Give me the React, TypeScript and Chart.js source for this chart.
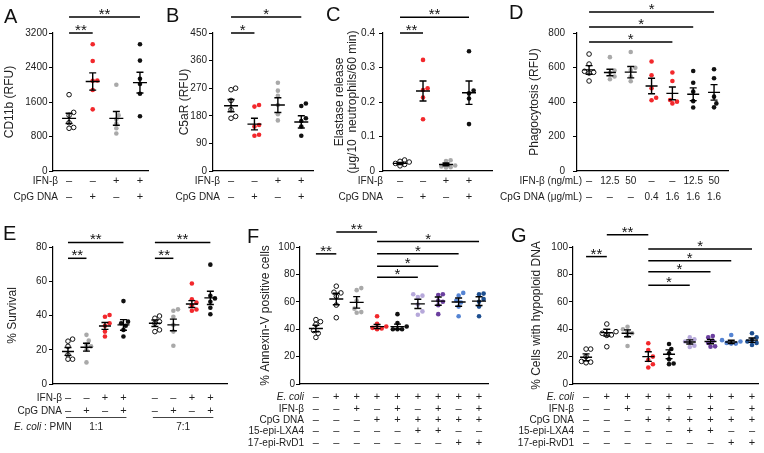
import React, { useEffect, useRef } from "react";
import { Chart, registerables } from "chart.js";

Chart.register(...registerables);

const FONT = "'Liberation Sans', Arial, Helvetica, sans-serif";
const PAGE_W = 764;
const PAGE_H = 453;

const OPEN = "open";
const GRAY = "#a9a9a9";
const RED = "#f2282c";
const BLACK = "#111111";
const LILAC = "#b6a8da";
const PURPLE = "#6b3f9f";
const BLUE = "#5584d3";
const NAVY = "#1d4e8f";

// ---------- A: CD11b ----------
const cd11bPoints = [
  [1770, 1360, 1290, 1120, 1010, 990],
  [2940, 2550, 2100, 2090, 1880, 1430],
  [2000, 1290, 1200, 1100, 990, 870],
  [2940, 2560, 2140, 2020, 1790, 1270],
];
const cd11bMean = [1220, 2075, 1220, 2050];
const cd11bSem = [120, 200, 160, 240];
const cd11bTicks = [0, 800, 1600, 2400, 3200];
const cd11bSig: [number, number, string, number][] = [
  [0, 3, "**", 3570],
  [0, 1, "**", 3200],
];

// ---------- B: C5aR ----------
const c5arPoints = [
  [270, 265, 230, 200, 178, 172],
  [215, 210, 150, 145, 118, 115],
  [288, 262, 245, 215, 185, 165],
  [220, 212, 172, 163, 145, 115],
];
const c5arMean = [213, 153, 215, 160];
const c5arSem = [20, 19, 24, 20];
const c5arTicks = [0, 90, 180, 270, 360, 450];
const c5arSig: [number, number, string, number][] = [
  [0, 3, "*", 502],
  [0, 1, "*", 450],
];

// ---------- C: Elastase ----------
const elastasePoints = [
  [0.032, 0.028, 0.026, 0.022, 0.019, 0.015],
  [0.322, 0.24, 0.235, 0.213, 0.15],
  [0.031, 0.029, 0.016, 0.013, 0.011, 0.01],
  [0.347, 0.233, 0.225, 0.21, 0.136],
];
const elastaseMean = [0.022, 0.232, 0.019, 0.227];
const elastaseSem = [0.003, 0.029, 0.004, 0.034];
const elastaseTicks = [0, 0.1, 0.2, 0.3, 0.4];
const elastaseSig: [number, number, string, number][] = [
  [0, 3, "**", 0.446],
  [0, 1, "**", 0.4],
];

const ifnCpgRows = ["IFN-β", "CpG DNA"];
const ifnCpgCells = [
  ["–", "–", "+", "+"],
  ["–", "+", "–", "+"],
];

// ---------- D: Phagocytosis ----------
const phagoPoints = [
  [678, 620, 578, 572, 568, 522],
  [660, 582, 570, 548, 532],
  [690, 598, 585, 548, 520],
  [635, 555, 480, 425, 410],
  [571, 522, 412, 402, 392],
  [580, 512, 460, 405, 368],
  [590, 538, 431, 392, 369],
];
const phagoMean = [586, 571, 573, 493, 450, 445, 456];
const phagoSem = [25, 19, 33, 45, 37, 37, 45];
const phagoTicks = [0, 200, 400, 600, 800];
const phagoSig: [number, number, string, number][] = [
  [0, 4, "*", 748],
  [0, 5, "*", 835],
  [0, 6, "*", 922],
];
const phagoRows = ["IFN-β (ng/mL)", "CpG DNA (μg/mL)"];
const phagoCells = [
  ["–", "12.5", "50", "–", "–", "12.5", "50"],
  ["–", "–", "–", "0.4", "1.6", "1.6", "1.6"],
];

// ---------- E: Survival ----------
const survivalPoints = [
  [26.2, 25, 22, 17, 14.5, 14.5],
  [28.7, 25.3, 23, 22, 20, 12.6],
  [40.3, 39.3, 35.5, 34, 30.6, 27.7],
  [48.4, 36.4, 35.5, 34, 31.6, 27.7],
  [39.7, 38.4, 36.4, 35.5, 31.6, 30.6],
  [43.6, 42.8, 39.3, 34.5, 30.6, 22.3],
  [58.7, 49.5, 47.5, 46, 43.5, 42.8],
  [69.7, 51.5, 50, 48, 44.5, 40.7],
];
const survivalMean = [19, 21.5, 33.9, 34.5, 35.5, 34.5, 46.7, 50.3];
const survivalSem = [2.3, 2.3, 2, 3.1, 1.9, 3.4, 2, 3.9];
const survivalTicks = [0, 20, 40, 60, 80];
const survivalSig: [number, number, string, number][] = [
  [0, 3, "**", 82.7],
  [4, 7, "**", 82.7],
  [0, 1, "**", 73.4],
  [4, 5, "**", 73.4],
];
const survivalCells = [
  ["–", "–", "+", "+", "–", "–", "+", "+"],
  ["–", "+", "–", "+", "–", "+", "–", "+"],
];
const survivalRatios = ["1:1", "7:1"];

// ---------- F: Annexin-V ----------
const annexinPoints = [
  [47, 45.5, 43.5, 39, 37, 34],
  [71.4, 67, 66.5, 64, 57.6, 48.4],
  [70, 68.5, 61, 55, 52.5, 52],
  [49.5, 44, 42, 41, 40.5, 40],
  [51, 44.5, 42, 40, 40, 40],
  [65.5, 64.5, 63.5, 58, 53, 50.5],
  [65.5, 65, 61, 60, 57.5, 51],
  [66.5, 64.5, 61, 59.5, 56.5, 49.5],
  [66, 65.5, 62, 60, 56.5, 49.5],
];
const annexinMean = [40.5, 62, 59.6, 41.9, 41.9, 58.5, 60.5, 59.8, 60.5];
const annexinSem = [2.4, 4.2, 4.2, 1.5, 1.8, 3.4, 3, 3, 3.2];
const percentTicks = [0, 20, 40, 60, 80, 100];
const annexinSig: [number, number, string, number][] = [
  [3, 5, "*", 78],
  [3, 6, "*", 86],
  [3, 7, "*", 95],
  [3, 8, "*", 104],
  [0, 1, "**", 95],
  [1, 3, "**", 111],
];

// ---------- G: Hypoploid DNA ----------
const hypoPoints = [
  [25.5, 25.5, 20, 16.5, 16, 15.5],
  [43.8, 38.2, 37, 35.8, 35.5, 27.2],
  [41.8, 40, 38.5, 37, 35, 27.7],
  [29.7, 24.8, 20, 17.5, 14.4, 12],
  [29.2, 25.5, 22.5, 18, 15, 14.5],
  [34, 32.6, 31, 30.5, 28, 27],
  [35, 34, 31.6, 30, 27.5, 27.2],
  [35.8, 32, 31, 30, 29.5, 29.5],
  [37, 34, 32, 31, 30, 28.5],
];
const hypoMean = [19.5, 37.5, 37, 20, 21.7, 30.7, 31, 30.7, 32];
const hypoSem = [2.5, 2.5, 2.5, 3.5, 3.2, 1.5, 1.6, 1.2, 1.6];
const hypoSig: [number, number, string, number][] = [
  [3, 5, "*", 72],
  [3, 6, "*", 82],
  [3, 7, "*", 90],
  [3, 8, "*", 98.5],
  [0, 1, "**", 93],
  [1, 3, "**", 109],
];

const treatRows = ["E. coli", "IFN-β", "CpG DNA", "15-epi-LXA4", "17-epi-RvD1"];
const treatCells = [
  ["–", "+", "+", "+", "+", "+", "+", "+", "+"],
  ["–", "–", "+", "–", "+", "–", "+", "–", "+"],
  ["–", "–", "–", "+", "+", "+", "+", "+", "+"],
  ["–", "–", "–", "–", "–", "+", "+", "–", "–"],
  ["–", "–", "–", "–", "–", "–", "–", "+", "+"],
];

// ---------- layout ----------
type Area = { l: number; t: number; r: number; b: number };
type Panel = {
  letter: string;
  letterPos: [number, number];
  area: Area;
  xRange: [number, number];
  positions: number[];
  points: number[][];
  colors: string[];
  means: number[];
  sems: number[];
  ticks: number[];
  tickPad: number;
  meanHalf: number;
  title: string[];
  titleX: number[];
  rows: string[];
  cells: string[][];
  rowY: number[];
  rowRight: number;
  sig: [number, number, string, number][];
  extra?: (ctx: CanvasRenderingContext2D, xs: any, p: Panel) => void;
};

const idx = (n: number) => Array.from({ length: n }, (_, i) => i);
const survivalPos = idx(8).map((i) => i + (i >= 4 ? 0.7 : 0));
const treatRowY = [397, 409, 420, 431, 443];

const panels: Panel[] = [
  {
    letter: "A", letterPos: [4, 23], area: { l: 53, t: 33, r: 148, b: 171 }, xRange: [-0.68, 3.34],
    positions: idx(4), points: cd11bPoints, colors: [OPEN, RED, GRAY, BLACK], means: cd11bMean, sems: cd11bSem,
    ticks: cd11bTicks, tickPad: 1.5, meanHalf: 7, title: ["CD11b (RFU)"], titleX: [10],
    rows: ifnCpgRows, cells: ifnCpgCells, rowY: [181, 197], rowRight: 58, sig: cd11bSig,
  },
  {
    letter: "B", letterPos: [166, 22], area: { l: 213, t: 33, r: 313, b: 171 }, xRange: [-0.77, 3.5],
    positions: idx(4), points: c5arPoints, colors: [OPEN, RED, GRAY, BLACK], means: c5arMean, sems: c5arSem,
    ticks: c5arTicks, tickPad: 2, meanHalf: 7, title: ["C5aR (RFU)"], titleX: [185],
    rows: ifnCpgRows, cells: ifnCpgCells, rowY: [181, 197], rowRight: 220, sig: c5arSig,
  },
  {
    letter: "C", letterPos: [326, 21], area: { l: 383, t: 33, r: 492, b: 171 }, xRange: [-0.74, 4.0],
    positions: idx(4), points: elastasePoints, colors: [OPEN, RED, GRAY, BLACK], means: elastaseMean, sems: elastaseSem,
    ticks: elastaseTicks, tickPad: 4, meanHalf: 7, title: ["Elastase release", "(μg/10  neutrophils/60 min)"], titleX: [340, 353],
    rows: ifnCpgRows, cells: ifnCpgCells, rowY: [181, 197], rowRight: 383, sig: elastaseSig,
  },
  {
    letter: "D", letterPos: [509, 19], area: { l: 577, t: 33, r: 728, b: 171 }, xRange: [-0.58, 6.67],
    positions: idx(7), points: phagoPoints, colors: [OPEN, GRAY, GRAY, RED, RED, BLACK, BLACK], means: phagoMean, sems: phagoSem,
    ticks: phagoTicks, tickPad: 8, meanHalf: 6, title: ["Phagocytosis (RFU)"], titleX: [535],
    rows: phagoRows, cells: phagoCells, rowY: [181, 197], rowRight: 582, sig: phagoSig,
  },
  {
    letter: "E", letterPos: [3, 240], area: { l: 53, t: 247, r: 227, b: 384 }, xRange: [-0.81, 8.6],
    positions: survivalPos, points: survivalPoints, colors: [OPEN, GRAY, RED, BLACK, OPEN, GRAY, RED, BLACK],
    means: survivalMean, sems: survivalSem, ticks: survivalTicks, tickPad: 2, meanHalf: 6,
    title: ["% Survival"], titleX: [13], rows: ifnCpgRows, cells: survivalCells, rowY: [398, 411], rowRight: 62,
    sig: survivalSig,
    extra: (ctx, xs, p) => {
      ctx.strokeStyle = "#444";
      ctx.lineWidth = 1;
      ctx.fillStyle = "#222";
      ctx.font = `10px ${FONT}`;
      ctx.textAlign = "center";
      ctx.textBaseline = "middle";
      survivalRatios.forEach((label, g) => {
        const x1 = xs.getPixelForValue(p.positions[g * 4]) - 2;
        const x2 = xs.getPixelForValue(p.positions[g * 4 + 3]) + 3;
        ctx.beginPath();
        ctx.moveTo(x1, 417.5);
        ctx.lineTo(x2, 417.5);
        ctx.stroke();
        ctx.fillText(label, (x1 + x2) / 2, 427);
      });
      ctx.textAlign = "left";
      ctx.font = `italic 10px ${FONT}`;
      ctx.fillText("E. coli", 14, 427);
      const w = ctx.measureText("E. coli").width;
      ctx.font = `10px ${FONT}`;
      ctx.fillText(" : PMN", 14 + w, 427);
    },
  },
  {
    letter: "F", letterPos: [247, 243], area: { l: 300, t: 247, r: 488, b: 384 }, xRange: [-0.78, 8.44],
    positions: idx(9), points: annexinPoints, colors: [OPEN, OPEN, GRAY, RED, BLACK, LILAC, PURPLE, BLUE, NAVY],
    means: annexinMean, sems: annexinSem, ticks: percentTicks, tickPad: 1, meanHalf: 7,
    title: ["% Annexin-V positive cells"], titleX: [266], rows: treatRows, cells: treatCells, rowY: treatRowY,
    rowRight: 304, sig: annexinSig,
  },
  {
    letter: "G", letterPos: [511, 242], area: { l: 573, t: 247, r: 758, b: 384 }, xRange: [-0.63, 8.29],
    positions: idx(9), points: hypoPoints, colors: [OPEN, OPEN, GRAY, RED, BLACK, LILAC, PURPLE, BLUE, NAVY],
    means: hypoMean, sems: hypoSem, ticks: percentTicks, tickPad: 1, meanHalf: 6,
    title: ["% Cells with hypoploid DNA"], titleX: [537], rows: treatRows, cells: treatCells, rowY: treatRowY,
    rowRight: 574, sig: hypoSig,
  },
];

const R = 2.3;

function swarmOffsets(vals: number[], pxY: number, pxX: number): number[] {
  const order = vals.map((_, i) => i).sort((a, b) => vals[a] - vals[b]);
  const placed: { x: number; y: number }[] = [];
  const out = new Array(vals.length).fill(0);
  const step = R * 1.0;
  for (const i of order) {
    const y = vals[i] * pxY;
    for (let k = 0; k < 30; k++) {
      const cand = k === 0 ? 0 : (k % 2 ? 1 : -1) * Math.ceil(k / 2) * step;
      if (placed.every((q) => Math.hypot(q.x - cand, q.y - y) >= 2 * R * 0.9)) {
        placed.push({ x: cand, y });
        out[i] = cand / pxX;
        break;
      }
    }
  }
  return out;
}

function makeDecor(p: Panel) {
  return {
    id: "decor" + p.letter,
    afterDatasetsDraw(chart: any) {
      const ctx: CanvasRenderingContext2D = chart.ctx;
      const xs = chart.scales.x;
      const ys = chart.scales.y;
      ctx.save();
      ctx.strokeStyle = "#000";
      ctx.lineWidth = 1.4;
      p.means.forEach((m, i) => {
        const x = xs.getPixelForValue(p.positions[i]);
        const ym = ys.getPixelForValue(m);
        const yt = ys.getPixelForValue(m + p.sems[i]);
        const yb = ys.getPixelForValue(m - p.sems[i]);
        ctx.beginPath();
        ctx.moveTo(x - p.meanHalf, ym);
        ctx.lineTo(x + p.meanHalf, ym);
        ctx.moveTo(x, yt);
        ctx.lineTo(x, yb);
        ctx.moveTo(x - 3.5, yt);
        ctx.lineTo(x + 3.5, yt);
        ctx.moveTo(x - 3.5, yb);
        ctx.lineTo(x + 3.5, yb);
        ctx.stroke();
      });
      ctx.restore();
    },
    afterDraw(chart: any) {
      const ctx: CanvasRenderingContext2D = chart.ctx;
      const xs = chart.scales.x;
      const ys = chart.scales.y;
      const area = chart.chartArea;
      ctx.save();
      ctx.strokeStyle = "#000";
      ctx.fillStyle = "#111";
      ctx.lineWidth = 1.5;
      p.sig.forEach(([a, b, label, v]) => {
        const x1 = xs.getPixelForValue(p.positions[a]);
        const x2 = xs.getPixelForValue(p.positions[b]);
        const y = ys.getPixelForValue(v);
        ctx.beginPath();
        ctx.moveTo(x1, y);
        ctx.lineTo(x2, y);
        ctx.stroke();
        ctx.font = `15px ${FONT}`;
        ctx.textAlign = "center";
        ctx.textBaseline = "alphabetic";
        ctx.fillText(label, (x1 + x2) / 2, y + 2);
      });
      ctx.fillStyle = "#222";
      ctx.font = `12px ${FONT}`;
      ctx.textAlign = "center";
      ctx.textBaseline = "middle";
      const yc = (area.top + area.bottom) / 2;
      p.title.forEach((line, i) => {
        ctx.save();
        ctx.translate(p.titleX[i], yc);
        ctx.rotate(-Math.PI / 2);
        ctx.fillText(line, 0, 0);
        ctx.restore();
      });
      ctx.font = `20px ${FONT}`;
      ctx.textAlign = "left";
      ctx.textBaseline = "alphabetic";
      ctx.fillStyle = "#111";
      ctx.fillText(p.letter, p.letterPos[0], p.letterPos[1]);
      ctx.fillStyle = "#222";
      ctx.textBaseline = "middle";
      p.rows.forEach((label, r) => {
        ctx.textAlign = "right";
        ctx.font = (label === "E. coli" ? "italic " : "") + `10px ${FONT}`;
        ctx.fillText(label, p.rowRight, p.rowY[r]);
        ctx.textAlign = "center";
        p.cells[r].forEach((c, i) => {
          ctx.font = (c === "+" || c === "–" ? "11px " : "10px ") + FONT;
          ctx.fillText(c, xs.getPixelForValue(p.positions[i]), p.rowY[r]);
        });
      });
      if (p.extra) p.extra(ctx, xs, p);
      ctx.restore();
    },
  };
}

function buildChart(canvas: HTMLCanvasElement, p: Panel) {
  const a = p.area;
  const yW = 34;
  const yMin = p.ticks[0];
  const yMax = p.ticks[p.ticks.length - 1];
  const pxY = (a.b - a.t) / (yMax - yMin);
  const pxX = (a.r - a.l) / (p.xRange[1] - p.xRange[0]);
  const datasets = p.points.map((vals, g) => {
    const offs = swarmOffsets(vals, pxY, pxX);
    const col = p.colors[g];
    const open = col === OPEN;
    return {
      type: "scatter" as const,
      data: vals.map((v, i) => ({ x: p.positions[g] + offs[i], y: v })),
      pointRadius: R,
      pointBackgroundColor: open ? "#ffffff" : col,
      pointBorderColor: open ? "#111111" : col,
      pointBorderWidth: open ? 1 : 0,
      showLine: false,
      clip: false as any,
    };
  });
  return new Chart(canvas, {
    type: "scatter",
    data: { datasets },
    options: {
      responsive: false,
      animation: false,
      devicePixelRatio: 1,
      events: [],
      layout: {
        padding: { left: a.l - yW, top: a.t, right: PAGE_W - a.r, bottom: PAGE_H - a.b },
      },
      plugins: { legend: { display: false }, tooltip: { enabled: false } },
      scales: {
        x: {
          type: "linear",
          min: p.xRange[0],
          max: p.xRange[1],
          ticks: { display: false },
          grid: { display: false },
          border: { display: true, color: "#000", width: 1.2 },
          afterFit: (s: any) => {
            s.height = 0;
          },
        },
        y: {
          type: "linear",
          min: yMin,
          max: yMax,
          afterBuildTicks: (s: any) => {
            s.ticks = p.ticks.map((v) => ({ value: v }));
          },
          ticks: {
            padding: p.tickPad,
            color: "#222",
            font: { family: FONT, size: 10 },
            callback: (v: any) => String(v),
          },
          grid: { display: true, drawOnChartArea: false, drawTicks: true, tickLength: 4, color: "#000", lineWidth: 1 },
          border: { display: true, color: "#000", width: 1.2 },
          afterFit: (s: any) => {
            s.width = yW;
          },
        },
      },
    },
    plugins: [makeDecor(p)],
  } as any);
}

export default function App() {
  const refs = useRef<(HTMLCanvasElement | null)[]>([]);
  useEffect(() => {
    Chart.defaults.font.family = FONT;
    const charts = panels.map((p, i) => buildChart(refs.current[i] as HTMLCanvasElement, p));
    return () => charts.forEach((c) => c.destroy());
  }, []);
  return (
    <div style={{ position: "fixed", left: 0, top: 0, width: PAGE_W, height: PAGE_H, background: "#fff", overflow: "hidden" }}>
      {panels.map((p, i) => (
        <canvas
          key={p.letter}
          ref={(el) => {
            refs.current[i] = el;
          }}
          width={PAGE_W}
          height={PAGE_H}
          style={{ position: "absolute", left: 0, top: 0, width: PAGE_W, height: PAGE_H }}
        />
      ))}
    </div>
  );
}
